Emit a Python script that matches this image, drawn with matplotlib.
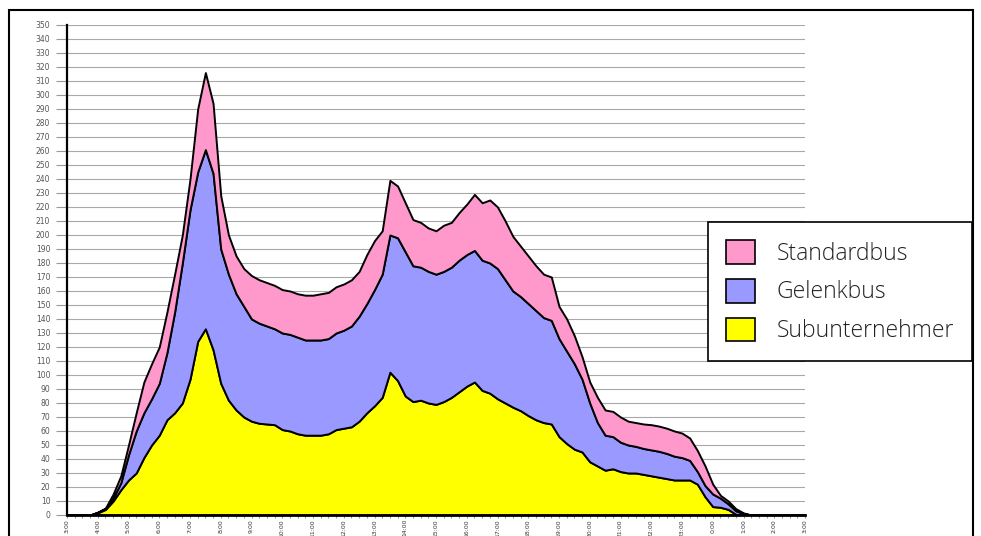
import matplotlib.pyplot as plt
import numpy as np
from matplotlib.patches import Rectangle, Patch

# Buses in service over the day, 15-minute steps from 3:00 to 3:00 next day
start_hour = 3.0
step = 0.25

subunternehmer = [
    0, 0, 0, 0, 1.5, 4, 10, 18, 25, 30, 41, 50, 57, 68, 73, 80,
    97, 124, 133, 118, 94, 82, 75, 70, 67, 65.5, 65, 64.5, 61, 60, 58, 57,
    57, 57, 58, 61, 62, 63, 67, 73, 78, 84, 102, 96, 85, 81, 82, 80,
    79, 81, 84, 88, 92, 95, 89, 87, 83, 80, 77, 74.5, 71, 68, 66, 65,
    56, 51, 47, 45, 38, 35, 32, 33, 31, 30, 30, 29, 28, 27, 26, 25,
    25, 25, 22, 13, 6, 5.5, 4, 0.5, 0, 0, 0, 0, 0, 0, 0, 0, 0,
]
gelenkbus = [
    0, 0, 0, 0, 0.5, 0.5, 2, 5, 18, 30, 32, 33, 37, 48, 72, 100,
    121, 121, 128, 126, 96, 90, 83, 79, 73, 71.5, 70, 68.5, 69, 69, 69, 68,
    68, 68, 68, 69, 70, 72, 75, 78, 83, 88, 98, 102, 103, 97, 95, 94,
    93, 93, 93, 94, 94, 94, 93, 93, 93, 88, 83, 81.5, 80, 78, 75, 74,
    70, 66, 61, 52, 42, 31, 25, 23, 21, 20, 19, 18.5, 18.5, 18.5, 18, 17,
    16, 14, 9, 8, 9, 6.5, 4, 2.5, 1, 0, 0, 0, 0, 0, 0, 0, 0,
]
standardbus = [
    0, 0, 0, 0, 0, 0.5, 3, 5, 7, 13, 22, 25, 26, 29, 27, 20,
    22, 45, 55, 50, 38, 28, 27, 27, 31, 31, 31, 31, 31, 31, 31, 32,
    32, 33, 33, 33, 33, 33, 32, 35, 35, 31, 39, 37, 35, 33, 32, 31,
    31, 33, 32, 34, 36, 40, 41, 45, 44, 42, 39, 36, 34, 32, 31, 31,
    23, 23, 20, 16, 15, 18, 18, 18, 18, 17, 17, 17.5, 18, 18, 18, 18,
    17.5, 16, 15, 14, 7, 2, 2, 1.5, 0.5, 0, 0, 0, 0, 0, 0, 0, 0,
]

series_names = ['Subunternehmer', 'Gelenkbus', 'Standardbus']
series_colors = ['#FFFF00', '#9999FF', '#FF99CC']

hour_labels = ['3:00', '4:00', '5:00', '6:00', '7:00', '8:00', '9:00', '10:00',
               '11:00', '12:00', '13:00', '14:00', '15:00', '16:00', '17:00',
               '18:00', '19:00', '20:00', '21:00', '22:00', '23:00', '0:00',
               '1:00', '2:00', '3:00']

time = start_hour + step * np.arange(len(subunternehmer))

fig = plt.figure(figsize=(9.81, 5.36), dpi=100)
ax = fig.add_axes([0.0683, 0.0392, 0.7523, 0.9142])

ax.stackplot(time, subunternehmer, gelenkbus, standardbus,
             colors=series_colors, edgecolor='black', linewidth=1.4,
             zorder=3)

ax.set_xlim(3, 27)
ax.set_ylim(0, 350)

ax.set_yticks(np.arange(0, 351, 10))
ax.yaxis.grid(True, color='#a8a8a8', linewidth=0.8, zorder=0)
ax.set_axisbelow(True)
ax.tick_params(axis='y', labelsize=5.5, labelcolor='#555555', color='#999999',
               length=8, width=0.8, pad=4)

ax.set_xticks(np.arange(3, 28, 1))
ax.set_xticklabels(hour_labels, rotation=90)
ax.set_xticks(np.arange(3, 27.01, 0.25), minor=True)
ax.tick_params(axis='x', labelsize=4.4, labelcolor='#333333', color='#999999',
               length=2, width=0.8, pad=0.8)
ax.tick_params(axis='x', which='minor', color='#999999', length=2, width=0.8)

for side in ['top', 'right']:
    ax.spines[side].set_visible(False)
ax.spines['left'].set_linewidth(1.6)
ax.spines['bottom'].set_linewidth(2.0)
ax.spines['left'].set_zorder(4)
ax.spines['bottom'].set_zorder(4)

# Legend, standard bus on top
handles = [Patch(facecolor=c, edgecolor='black', linewidth=1.2)
           for c in series_colors[::-1]]
leg = fig.legend(handles, series_names[::-1], loc='upper left',
                 bbox_to_anchor=(0.7217, 0.5858), bbox_transform=fig.transFigure,
                 borderaxespad=0, fancybox=False, framealpha=1,
                 edgecolor='black', handlelength=1.27,
                 handleheight=1.22, handletextpad=0.95, labelspacing=0.58,
                 borderpad=0.78, prop={'family': 'Open Sans', 'weight': 'light',
                                       'size': 16.5})
leg.get_frame().set_linewidth(1.2)
for text in leg.get_texts():
    text.set_color('#222222')

# Outer frame around the whole chart
fig.patches.append(Rectangle((9 / 981, -0.05), 964 / 981, 1.05 - 10 / 536,
                             transform=fig.transFigure, fill=False,
                             edgecolor='black', linewidth=1.5))

fig.savefig('out.png', dpi=100)
